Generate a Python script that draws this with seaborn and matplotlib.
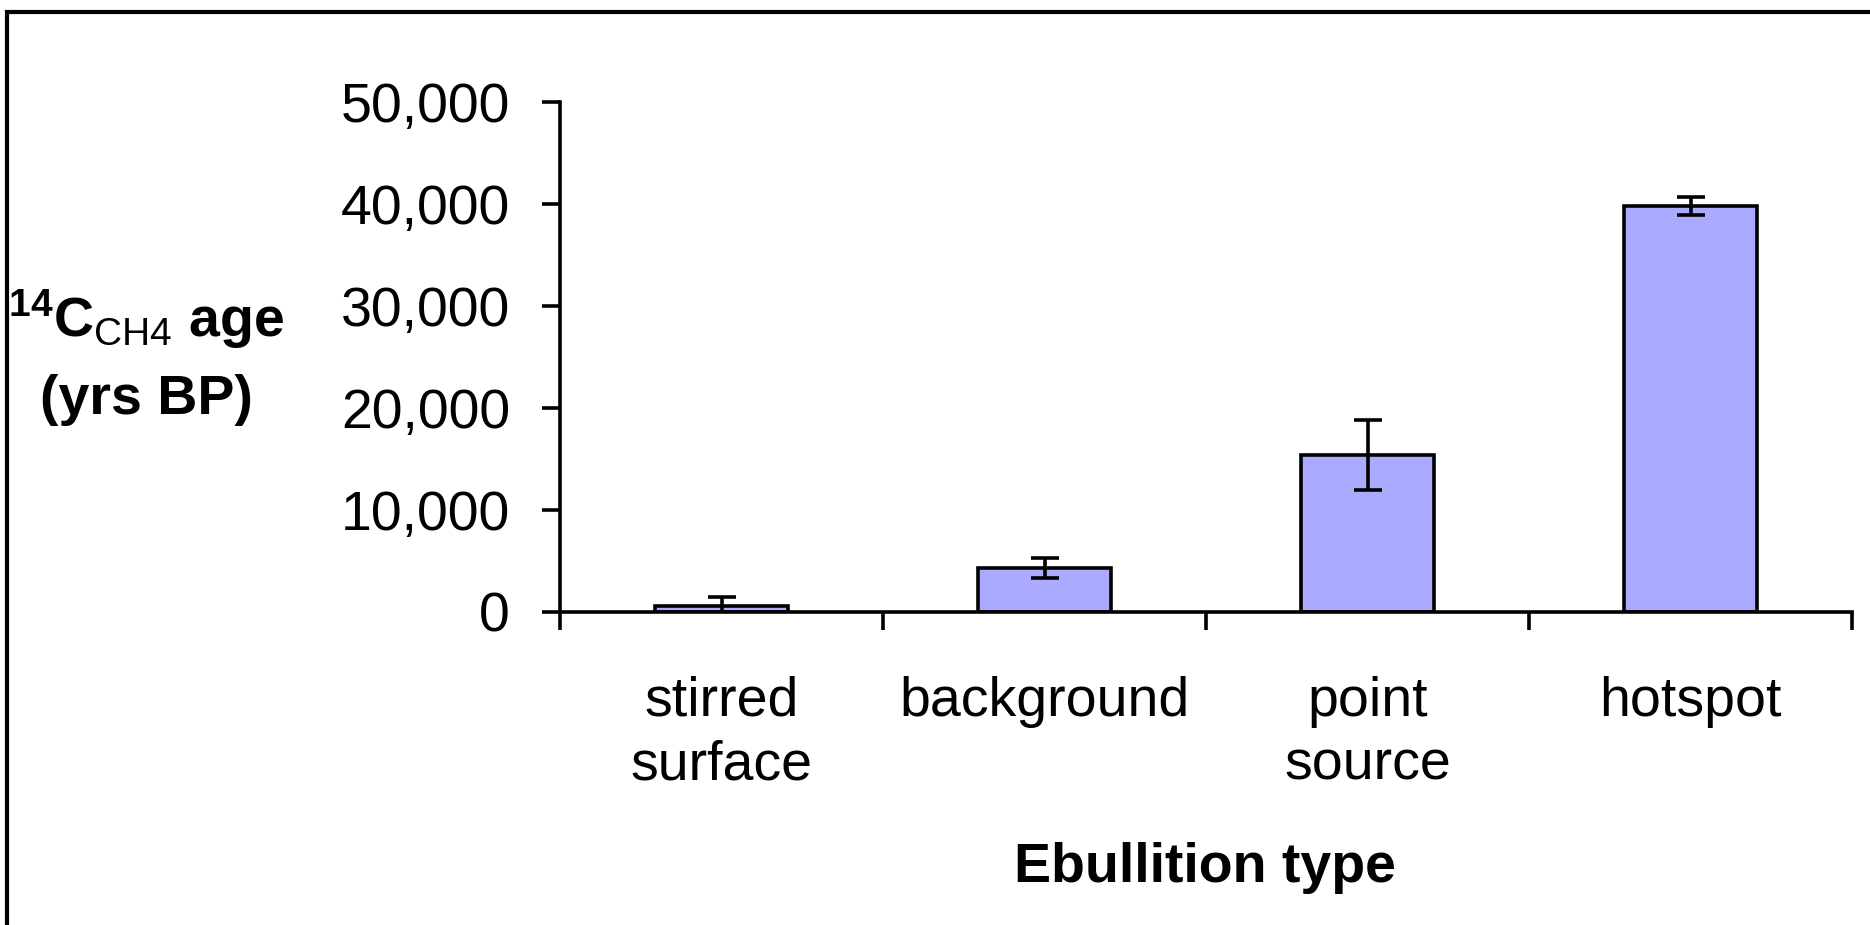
import matplotlib
matplotlib.use("Agg")
import matplotlib.pyplot as plt
import matplotlib.ticker as mticker
from matplotlib.patches import Rectangle
import seaborn as sns
import pandas as pd

# ---- data ----
categories = ["stirred\nsurface", "background", "point\nsource", "hotspot"]
ages = [600, 4300, 15400, 39800]
errors = [900, 1000, 3400, 870]
y_ticks = [0, 10000, 20000, 30000, 40000, 50000]
x_label = "Ebullition type"
y_label_1 = r"$\mathbf{^{14}C}_{\mathrm{CH4}}$ age"
y_label_2 = "(yrs BP)"

sns.set_theme(style="white")
plt.rcParams["font.family"] = ["Liberation Sans", "DejaVu Sans"]
plt.rcParams["mathtext.fontset"] = "custom"
plt.rcParams["mathtext.rm"] = "Liberation Sans"
plt.rcParams["mathtext.bf"] = "Liberation Sans:bold"
plt.rcParams["mathtext.it"] = "Liberation Sans:italic"
plt.rcParams["text.color"] = "black"
plt.rcParams["xtick.color"] = "black"
plt.rcParams["ytick.color"] = "black"
plt.rcParams["axes.labelcolor"] = "black"

LW = 2.6

df = pd.DataFrame({"cat": categories, "age": ages})

fig = plt.figure(figsize=(18.7, 9.25), dpi=100)
ax = fig.add_axes([560 / 1870, 1 - 612 / 925, (1852 - 560) / 1870, (612 - 102) / 925])

sns.barplot(data=df, x="cat", y="age", order=categories, color="#AAAAFF",
            saturation=1, width=0.41, edgecolor="black", linewidth=LW,
            errorbar=None, ax=ax)
ax.errorbar(x=list(range(len(categories))), y=ages, yerr=errors, fmt="none",
            ecolor="black", elinewidth=LW, capsize=10, capthick=LW, zorder=5)

ax.set_xlim(-0.5, len(categories) - 0.5)
ax.set_ylim(0, 50000)
ax.set_yticks(y_ticks)
ax.yaxis.set_major_formatter(mticker.FuncFormatter(lambda v, p: f"{int(v):,}"))

for s in ["top", "right"]:
    ax.spines[s].set_visible(False)
for s in ["left", "bottom"]:
    ax.spines[s].set_linewidth(LW)
    ax.spines[s].set_color("black")

ax.tick_params(axis="y", which="major", direction="out", length=13, width=LW,
               left=True, labelsize=40, pad=23, colors="black")
ax.set_xticks(range(len(categories)))
ax.set_xticklabels(categories, fontsize=40, linespacing=1.3, color="black")
ax.tick_params(axis="x", which="major", length=0, pad=46, labelsize=40,
               labelcolor="black")
ax.set_xticks([i - 0.5 for i in range(len(categories) + 1)], minor=True)
ax.tick_params(axis="x", which="minor", direction="out", length=13, width=LW,
               bottom=True, color="black")
ax.set_xlabel("")
ax.set_ylabel("")

fig.text(1205 / 1870, 1 - 868 / 925, x_label, fontsize=40, fontweight="bold",
         ha="center", va="center", color="black")
fig.text(146 / 1870, 1 - 337 / 925, y_label_1, fontsize=40, fontweight="bold",
         ha="center", va="baseline", color="black")
fig.text(146 / 1870, 1 - 414 / 925, y_label_2, fontsize=40, fontweight="bold",
         ha="center", va="baseline", color="black")

fig.patches.append(Rectangle((7 / 1870, -0.2), 1.5, 1.2 - 12 / 925,
                             transform=fig.transFigure, fill=False,
                             edgecolor="black", linewidth=3.0))

fig.savefig("out.png", dpi=100, facecolor="white")
